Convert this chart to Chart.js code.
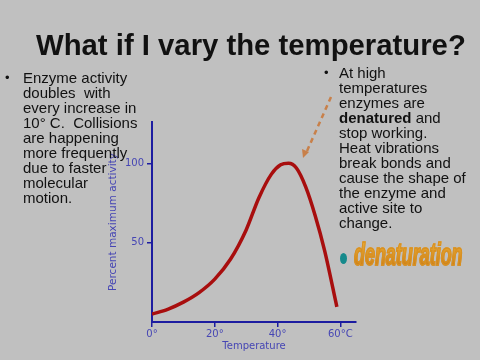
<!DOCTYPE html>
<html>
<head>
<meta charset="utf-8">
<script src="https://cdn.jsdelivr.net/npm/chart.js@4/dist/chart.umd.min.js"></script>
<style>
html, body { margin: 0; padding: 0; background: #c0c0c0; }
#slide { position: relative; width: 480px; height: 360px; overflow: hidden;
  font-family: "Liberation Sans", Arial, sans-serif; color: #111; }
#chart { position: absolute; left: 0; top: 0; }
.title { position: absolute; left: 36px; top: 30px; margin: 0; font-size: 29.3px; line-height: 29px;
  font-weight: bold; white-space: pre; }
.txt { position: absolute; font-size: 15px; line-height: 15px; white-space: pre; }
.bullet { position: absolute; font-size: 13px; line-height: 15px; }
.denat { position: absolute; left: 354px; top: 238px; font-size: 32px; line-height: 32px;
  font-weight: bold; font-style: italic; white-space: pre; transform: scaleX(0.56); transform-origin: 0 0;
  background: linear-gradient(#eeb238, #c97a14); -webkit-background-clip: text; background-clip: text;
  color: transparent; -webkit-text-stroke: 1.6px #d89022; }
.dot { position: absolute; left: 340px; top: 253px; width: 7px; height: 11px; border-radius: 50%; background: #168a8c; }
svg { position: absolute; left: 0; top: 0; }
</style>
</head>
<body>
<div id="slide">
  <canvas id="chart" width="480" height="360"></canvas>
  <div class="title">What if I vary the temperature?</div>
  <div class="bullet" style="left:5px;top:70px">•</div>
  <div class="txt" style="left:23px;top:70px">Enzyme activity
doubles  with
every increase in
10° C.  Collisions
are happening
more frequently
due to faster
molecular
motion.</div>
  <div class="bullet" style="left:324px;top:65px">•</div>
  <div class="txt" style="left:339px;top:65px">At high
temperatures
enzymes are
<b>denatured</b> and
stop working.
Heat vibrations
break bonds and
cause the shape of
the enzyme and
active site to
change.</div>
  <div class="dot"></div>
  <div class="denat">denaturation</div>
  <svg width="480" height="360">
    <line x1="331" y1="97" x2="307" y2="151" stroke="#c8804a" stroke-width="2.5" stroke-dasharray="5,4"/>
    <polygon points="303,158 302,149 309,152" fill="#c8804a"/>
  </svg>
</div>
<script>
// curve
const temps    = [0, 5, 10, 15, 20, 25, 30, 34, 38, 41, 43.5, 46, 49, 52, 55, 58.9];
const activity = [5, 8, 12.5, 18.5, 27, 39.5, 58, 78, 93, 99, 100, 97, 85, 67, 45, 9.6];

const xTickValues = [0, 20, 40, 60];
const xTickLabels = ['0°', '20°', '40°', '60°C'];
const yTickValues = [50, 100];
const yTickLabels = ['50', '100'];

const axisBlue = '#1c1ca0';
const labelBlue = '#4646b4';

new Chart(document.getElementById('chart'), {
  type: 'line',
  data: {
    datasets: [{
      data: temps.map((t, i) => ({ x: t, y: activity[i] })),
      borderColor: '#a80e0e',
      borderWidth: 3.5,
      pointRadius: 0,
      cubicInterpolationMode: 'monotone',
      fill: false
    }]
  },
  options: {
    responsive: false,
    animation: false,
    layout: { padding: { left: 103, right: 124, top: 122, bottom: 4 } },
    plugins: { legend: { display: false }, tooltip: { enabled: false } },
    scales: {
      x: {
        type: 'linear', min: 0, max: 65,
        afterBuildTicks: s => { s.ticks = xTickValues.map(v => ({ value: v })); },
        afterFit: s => { s.height = 34; },
        ticks: {
          color: labelBlue, padding: 1,
          font: { family: 'DejaVu Sans', size: 10 },
          callback: v => xTickLabels[xTickValues.indexOf(v)]
        },
        grid: { drawOnChartArea: false, color: axisBlue, tickLength: 5, lineWidth: 1.5 },
        border: { color: axisBlue, width: 2 },
        title: { display: true, text: 'Temperature', color: labelBlue,
          font: { family: 'DejaVu Sans', size: 10 } }
      },
      y: {
        min: 0, max: 126,
        afterBuildTicks: s => { s.ticks = yTickValues.map(v => ({ value: v })); },
        afterFit: s => { s.width = 49; },
        ticks: {
          color: labelBlue, padding: 3,
          font: { family: 'DejaVu Sans', size: 10 },
          callback: v => yTickLabels[yTickValues.indexOf(v)]
        },
        grid: { drawOnChartArea: false, color: axisBlue, tickLength: 5, lineWidth: 1.5 },
        border: { color: axisBlue, width: 2 },
        title: { display: true, text: 'Percent maximum activity', color: labelBlue,
          font: { family: 'DejaVu Sans', size: 10.5 } }
      }
    }
  }
});
</script>
</body>
</html>
